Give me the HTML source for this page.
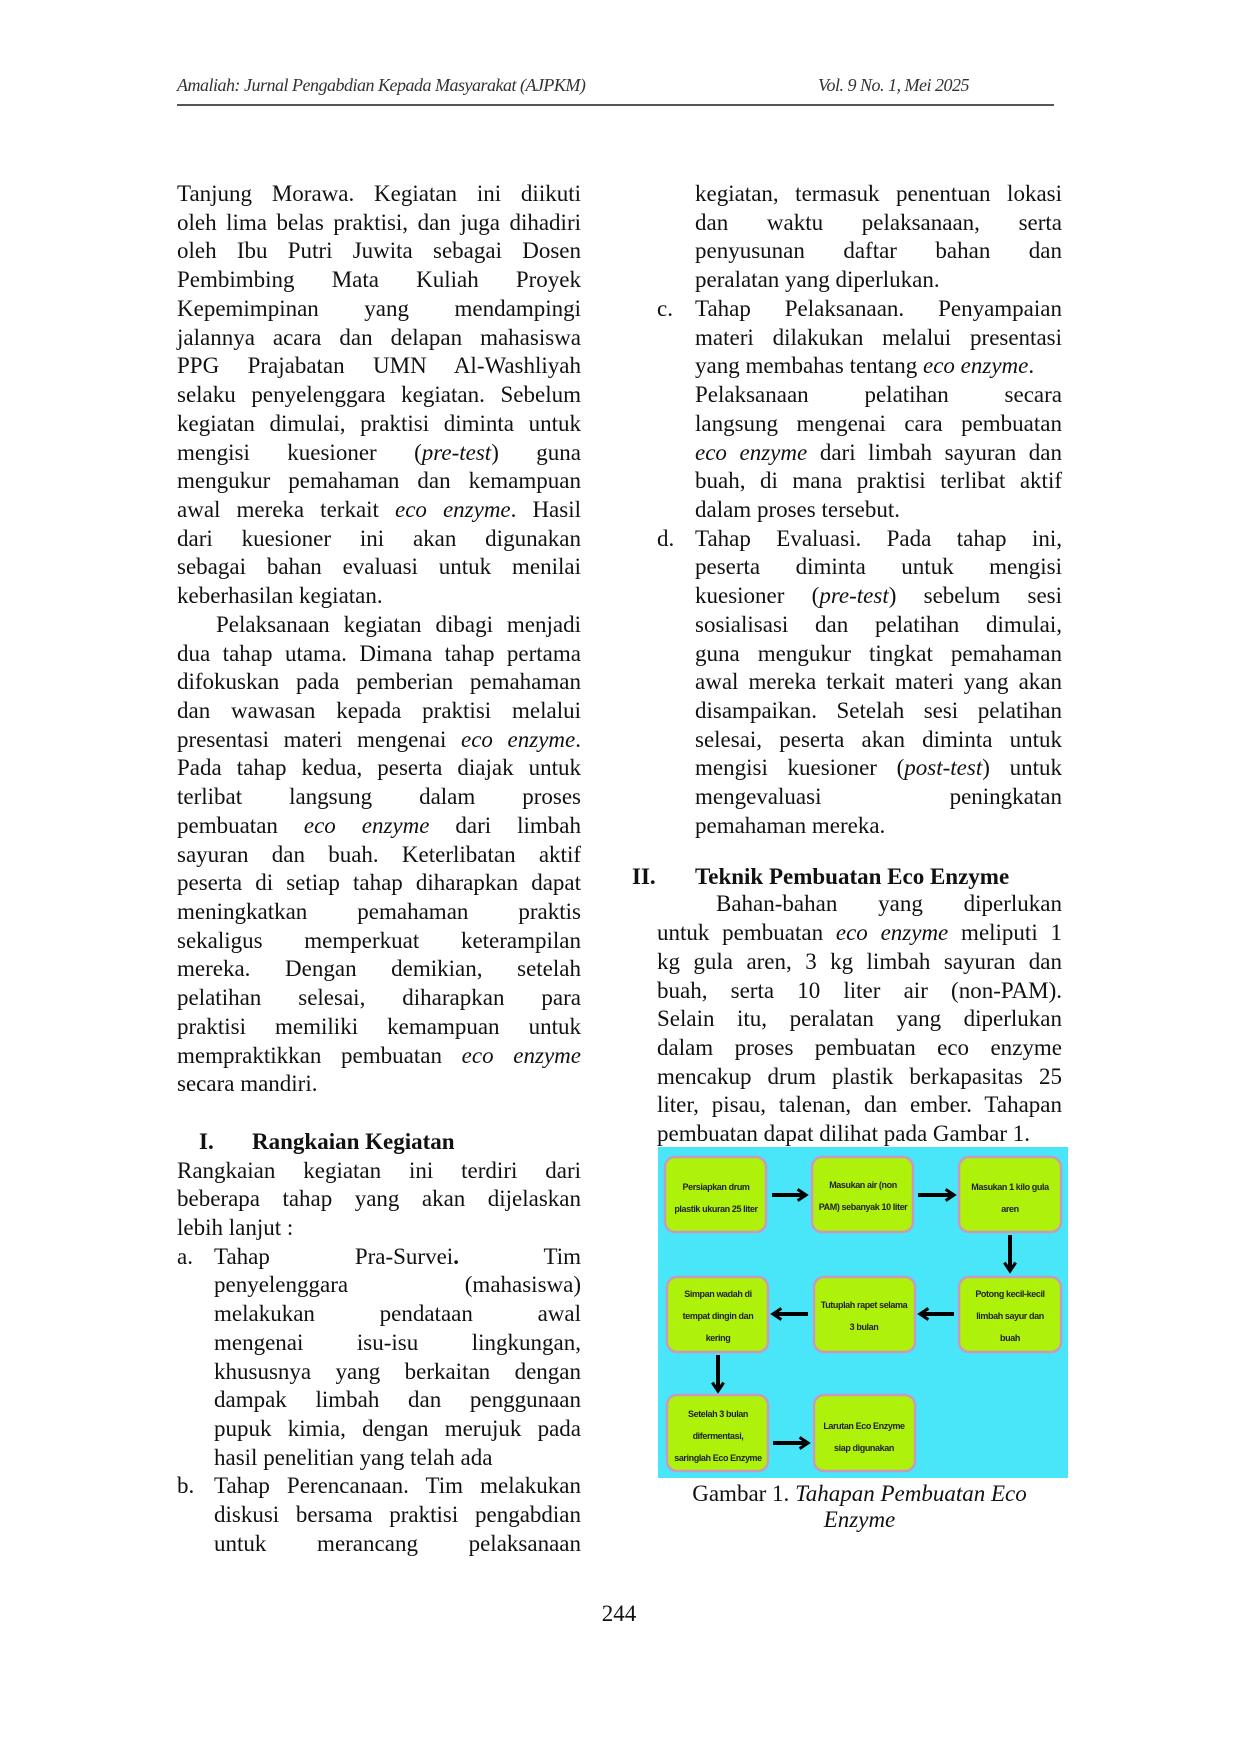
<!DOCTYPE html>
<html><head><meta charset="utf-8"><style>
body{margin:0;background:#fff}
#p{position:relative;width:1240px;height:1754px;overflow:hidden;background:#fff;font-family:"Liberation Serif",serif;font-size:23px;color:#111}
.l{position:absolute;height:28px;line-height:28px;white-space:nowrap;transform:translateY(3px)}
.L{left:177px;width:404px}
.R{left:695px;width:367px}
.RP{left:657px;width:405px}
.j{text-align:justify;text-align-last:justify}
.hd{position:absolute;top:75px;font-style:italic;font-size:18px;color:#333;letter-spacing:-0.5px}
b{font-weight:bold}
</style></head><body><div id="p">
<div class="hd" style="left:177px">Amaliah: Jurnal Pengabdian Kepada Masyarakat (AJPKM)</div>
<div class="hd" style="left:818px">Vol. 9 No. 1, Mei 2025</div>
<div style="position:absolute;left:177px;top:104px;width:877px;height:2px;background:#555"></div>

<div class="l L j" style="top:177px">Tanjung Morawa. Kegiatan ini diikuti</div>
<div class="l L j" style="top:205.7px">oleh lima belas praktisi, dan juga dihadiri</div>
<div class="l L j" style="top:234.4px">oleh Ibu Putri Juwita sebagai Dosen</div>
<div class="l L j" style="top:263.2px">Pembimbing Mata Kuliah Proyek</div>
<div class="l L j" style="top:291.9px">Kepemimpinan yang mendampingi</div>
<div class="l L j" style="top:320.6px">jalannya acara dan delapan mahasiswa</div>
<div class="l L j" style="top:349.3px">PPG Prajabatan UMN Al-Washliyah</div>
<div class="l L j" style="top:378px">selaku penyelenggara kegiatan. Sebelum</div>
<div class="l L j" style="top:406.8px">kegiatan dimulai, praktisi diminta untuk</div>
<div class="l L j" style="top:435.5px">mengisi kuesioner (<i>pre-test</i>) guna</div>
<div class="l L j" style="top:464.2px">mengukur pemahaman dan kemampuan</div>
<div class="l L j" style="top:492.9px">awal mereka terkait <i>eco enzyme</i>. Hasil</div>
<div class="l L j" style="top:521.6px">dari kuesioner ini akan digunakan</div>
<div class="l L j" style="top:550.4px">sebagai bahan evaluasi untuk menilai</div>
<div class="l L" style="top:579.1px">keberhasilan kegiatan.</div>
<div class="l j" style="top:607.8px;left:216px;width:365px">Pelaksanaan kegiatan dibagi menjadi</div>
<div class="l L j" style="top:636.5px">dua tahap utama. Dimana tahap pertama</div>
<div class="l L j" style="top:665.2px">difokuskan pada pemberian pemahaman</div>
<div class="l L j" style="top:694px">dan wawasan kepada praktisi melalui</div>
<div class="l L j" style="top:722.7px">presentasi materi mengenai <i>eco enzyme</i>.</div>
<div class="l L j" style="top:751.4px">Pada tahap kedua, peserta diajak untuk</div>
<div class="l L j" style="top:780.1px">terlibat langsung dalam proses</div>
<div class="l L j" style="top:808.8px">pembuatan <i>eco enzyme</i> dari limbah</div>
<div class="l L j" style="top:837.6px">sayuran dan buah. Keterlibatan aktif</div>
<div class="l L j" style="top:866.3px">peserta di setiap tahap diharapkan dapat</div>
<div class="l L j" style="top:895px">meningkatkan pemahaman praktis</div>
<div class="l L j" style="top:923.7px">sekaligus memperkuat keterampilan</div>
<div class="l L j" style="top:952.4px">mereka. Dengan demikian, setelah</div>
<div class="l L j" style="top:981.2px">pelatihan selesai, diharapkan para</div>
<div class="l L j" style="top:1009.9px">praktisi memiliki kemampuan untuk</div>
<div class="l L j" style="top:1038.6px">mempraktikkan pembuatan <i>eco enzyme</i></div>
<div class="l L" style="top:1067.3px">secara mandiri.</div>
<div class="l" style="top:1124.8px;left:199px"><b>I.</b></div>
<div class="l" style="top:1124.8px;left:252px"><b>Rangkaian Kegiatan</b></div>
<div class="l L j" style="top:1153.5px">Rangkaian kegiatan ini terdiri dari</div>
<div class="l L j" style="top:1182.2px">beberapa tahap yang akan dijelaskan</div>
<div class="l L" style="top:1210.9px">lebih lanjut :</div>
<div class="l" style="top:1239.6px;left:177px">a.</div>
<div class="l j" style="top:1239.6px;left:214px;width:367px">Tahap Pra-Survei<b>.</b> Tim</div>
<div class="l j" style="top:1268.4px;left:214px;width:367px">penyelenggara (mahasiswa)</div>
<div class="l j" style="top:1297.1px;left:214px;width:367px">melakukan pendataan awal</div>
<div class="l j" style="top:1325.8px;left:214px;width:367px">mengenai isu-isu lingkungan,</div>
<div class="l j" style="top:1354.5px;left:214px;width:367px">khususnya yang berkaitan dengan</div>
<div class="l j" style="top:1383.2px;left:214px;width:367px">dampak limbah dan penggunaan</div>
<div class="l j" style="top:1412px;left:214px;width:367px">pupuk kimia, dengan merujuk pada</div>
<div class="l" style="top:1440.7px;left:214px">hasil penelitian yang telah ada</div>
<div class="l" style="top:1469.4px;left:177px">b.</div>
<div class="l j" style="top:1469.4px;left:214px;width:367px">Tahap Perencanaan. Tim melakukan</div>
<div class="l j" style="top:1498.1px;left:214px;width:367px">diskusi bersama praktisi pengabdian</div>
<div class="l j" style="top:1526.8px;left:214px;width:367px">untuk merancang pelaksanaan</div>

<div class="l R j" style="top:177px">kegiatan, termasuk penentuan lokasi</div>
<div class="l R j" style="top:205.7px">dan waktu pelaksanaan, serta</div>
<div class="l R j" style="top:234.4px">penyusunan daftar bahan dan</div>
<div class="l R" style="top:263.2px">peralatan yang diperlukan.</div>
<div class="l" style="top:291.9px;left:657px">c.</div>
<div class="l R j" style="top:291.9px">Tahap Pelaksanaan. Penyampaian</div>
<div class="l R j" style="top:320.6px">materi dilakukan melalui presentasi</div>
<div class="l R" style="top:349.3px">yang membahas tentang <i>eco enzyme</i>.</div>
<div class="l R j" style="top:378px">Pelaksanaan pelatihan secara</div>
<div class="l R j" style="top:406.8px">langsung mengenai cara pembuatan</div>
<div class="l R j" style="top:435.5px"><i>eco enzyme</i> dari limbah sayuran dan</div>
<div class="l R j" style="top:464.2px">buah, di mana praktisi terlibat aktif</div>
<div class="l R" style="top:492.9px">dalam proses tersebut.</div>
<div class="l" style="top:521.6px;left:657px">d.</div>
<div class="l R j" style="top:521.6px">Tahap Evaluasi. Pada tahap ini,</div>
<div class="l R j" style="top:550.4px">peserta diminta untuk mengisi</div>
<div class="l R j" style="top:579.1px">kuesioner (<i>pre-test</i>) sebelum sesi</div>
<div class="l R j" style="top:607.8px">sosialisasi dan pelatihan dimulai,</div>
<div class="l R j" style="top:636.5px">guna mengukur tingkat pemahaman</div>
<div class="l R j" style="top:665.2px">awal mereka terkait materi yang akan</div>
<div class="l R j" style="top:694px">disampaikan. Setelah sesi pelatihan</div>
<div class="l R j" style="top:722.7px">selesai, peserta akan diminta untuk</div>
<div class="l R j" style="top:751.4px">mengisi kuesioner (<i>post-test</i>) untuk</div>
<div class="l R j" style="top:780.1px">mengevaluasi peningkatan</div>
<div class="l R" style="top:808.8px">pemahaman mereka.</div>
<div class="l" style="top:859.5px;left:632px"><b>II.</b></div>
<div class="l" style="top:859.5px;left:695px"><b>Teknik Pembuatan Eco Enzyme</b></div>
<div class="l j" style="top:887.4px;left:716px;width:346px">Bahan-bahan yang diperlukan</div>
<div class="l RP j" style="top:916.1px">untuk pembuatan <i>eco enzyme</i> meliputi 1</div>
<div class="l RP j" style="top:944.8px">kg gula aren, 3 kg limbah sayuran dan</div>
<div class="l RP j" style="top:973.6px">buah, serta 10 liter air (non-PAM).</div>
<div class="l RP j" style="top:1002.3px">Selain itu, peralatan yang diperlukan</div>
<div class="l RP j" style="top:1031px">dalam proses pembuatan eco enzyme</div>
<div class="l RP j" style="top:1059.7px">mencakup drum plastik berkapasitas 25</div>
<div class="l RP j" style="top:1088.4px">liter, pisau, talenan, dan ember. Tahapan</div>
<div class="l RP" style="top:1117.2px">pembuatan dapat dilihat pada Gambar 1.</div>

<svg style="position:absolute;left:658px;top:1147px" width="410" height="331" viewBox="0 0 410 331">
<defs><marker id="a" viewBox="0 0 10 10" refX="7" refY="5" markerWidth="3.5" markerHeight="3.5" orient="auto"><path d="M1,1 L7,5 L1,9" fill="none" stroke="#000" stroke-width="2.2"/></marker></defs>
<rect width="410" height="331" fill="#48e6f8"/>
<g fill="#aef20c" stroke="#c79ac0" stroke-width="2.5">
<rect x="7" y="10" width="101" height="75" rx="10"/>
<rect x="154" y="10" width="101" height="75" rx="10"/>
<rect x="301" y="10" width="102" height="75" rx="10"/>
<rect x="9" y="130" width="101" height="75" rx="10"/>
<rect x="156" y="130" width="101" height="75" rx="10"/>
<rect x="301" y="130" width="102" height="75" rx="10"/>
<rect x="9" y="248" width="101" height="76" rx="10"/>
<rect x="156" y="248" width="101" height="76" rx="10"/>
</g>
<g stroke="#000" stroke-width="4" marker-end="url(#a)">
<line x1="114" y1="48" x2="148" y2="48"/>
<line x1="260" y1="48" x2="296" y2="48"/>
<line x1="352" y1="88" x2="352" y2="124"/>
<line x1="296" y1="167" x2="262" y2="167"/>
<line x1="150" y1="167" x2="115" y2="167"/>
<line x1="60" y1="208" x2="60" y2="244"/>
<line x1="115" y1="296" x2="150" y2="296"/>
</g>
<g font-family="'Liberation Sans Narrow','Liberation Sans',sans-serif" font-weight="bold" font-size="9" letter-spacing="-0.4" text-anchor="middle" fill="#222">
<text x="58" y="43">Persiapkan drum</text><text x="58" y="65">plastik ukuran 25 liter</text>
<text x="205" y="41">Masukan air (non</text><text x="205" y="63">PAM) sebanyak 10 liter</text>
<text x="352" y="43">Masukan 1 kilo gula</text><text x="352" y="65">aren</text>
<text x="60" y="150">Simpan wadah di</text><text x="60" y="172">tempat dingin dan</text><text x="60" y="194">kering</text>
<text x="206" y="161">Tutuplah rapet selama</text><text x="206" y="183">3 bulan</text>
<text x="352" y="150">Potong kecil-kecil</text><text x="352" y="172">limbah sayur dan</text><text x="352" y="194">buah</text>
<text x="60" y="270">Setelah 3 bulan</text><text x="60" y="292">difermentasi,</text><text x="60" y="314">saringlah Eco Enzyme</text>
<text x="206" y="282">Larutan Eco Enzyme</text><text x="206" y="304">siap digunakan</text>
</g>
</svg>
<div class="l" style="top:1477px;left:657px;width:405px;text-align:center">Gambar 1. <i>Tahapan Pembuatan Eco</i></div>
<div class="l" style="top:1503px;left:657px;width:405px;text-align:center"><i>Enzyme</i></div>
<div class="l" style="top:1597px;left:580px;width:78px;text-align:center">244</div>
</div></body></html>
